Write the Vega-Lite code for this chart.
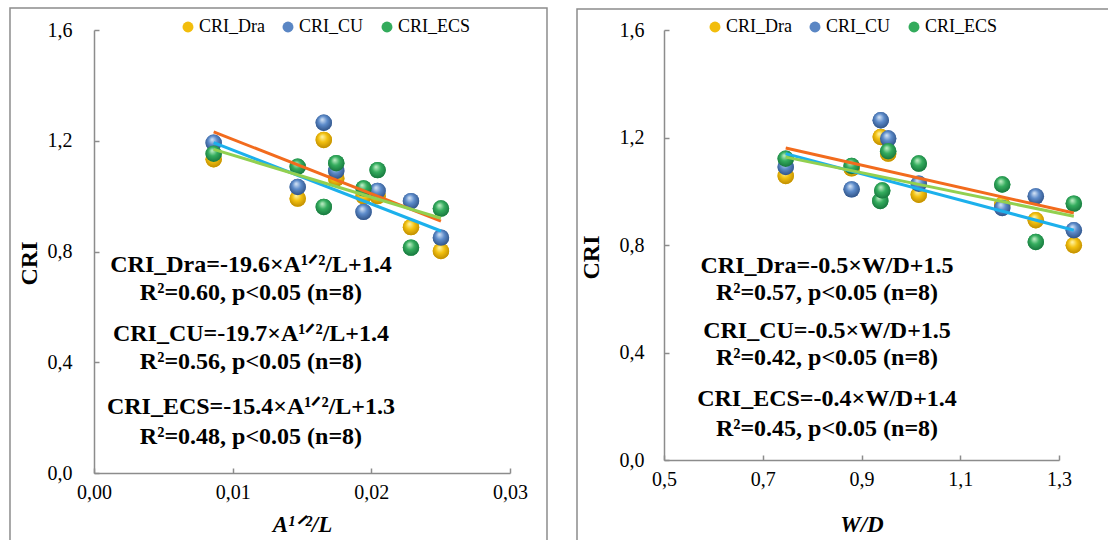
{
  "$schema": "https://vega.github.io/schema/vega-lite/v6.json",
  "background": "white",
  "padding": {"left": 9, "top": 7, "right": 0, "bottom": 0},
  "spacing": 28,
  "config": {
    "font": "Liberation Serif, Times New Roman, DejaVu Serif, serif",
    "view": {"stroke": null},
    "axis": {
      "grid": false,
      "domainColor": "#8c8c8c",
      "domainWidth": 1.5,
      "tickColor": "#8c8c8c",
      "tickWidth": 1.5,
      "tickSize": -5,
      "labelFlush": false,
      "labelFont": "Liberation Serif, Times New Roman, DejaVu Serif, serif",
      "labelFontSize": 20,
      "labelColor": "#000000",
      "titleFont": "Liberation Serif, Times New Roman, DejaVu Serif, serif",
      "titleFontWeight": "bold",
      "titleColor": "#000000"
    },
    "legend": {
      "labelFont": "Liberation Serif, Times New Roman, DejaVu Serif, serif",
      "labelFontSize": 18,
      "labelColor": "#000000"
    }
  },
  "datasets": {
    "ptsA": [
      {"series": "CRI_Dra", "x": 0.00863, "y": 1.133},
      {"series": "CRI_Dra", "x": 0.01469, "y": 0.991},
      {"series": "CRI_Dra", "x": 0.01657, "y": 1.203},
      {"series": "CRI_Dra", "x": 0.01747, "y": 1.064},
      {"series": "CRI_Dra", "x": 0.01944, "y": 1.0},
      {"series": "CRI_Dra", "x": 0.02045, "y": 1.0},
      {"series": "CRI_Dra", "x": 0.02286, "y": 0.888},
      {"series": "CRI_Dra", "x": 0.02502, "y": 0.802},
      {"series": "CRI_CU", "x": 0.00863, "y": 1.193},
      {"series": "CRI_CU", "x": 0.01469, "y": 1.033},
      {"series": "CRI_CU", "x": 0.01657, "y": 1.265},
      {"series": "CRI_CU", "x": 0.01747, "y": 1.091},
      {"series": "CRI_CU", "x": 0.01944, "y": 0.943},
      {"series": "CRI_CU", "x": 0.02045, "y": 1.019},
      {"series": "CRI_CU", "x": 0.02286, "y": 0.982},
      {"series": "CRI_CU", "x": 0.02502, "y": 0.85},
      {"series": "CRI_ECS", "x": 0.00863, "y": 1.153},
      {"series": "CRI_ECS", "x": 0.01469, "y": 1.106},
      {"series": "CRI_ECS", "x": 0.01657, "y": 0.961},
      {"series": "CRI_ECS", "x": 0.01747, "y": 1.119},
      {"series": "CRI_ECS", "x": 0.01944, "y": 1.028},
      {"series": "CRI_ECS", "x": 0.02045, "y": 1.094},
      {"series": "CRI_ECS", "x": 0.02286, "y": 0.814},
      {"series": "CRI_ECS", "x": 0.02502, "y": 0.955}
    ],
    "ptsB": [
      {"series": "CRI_Dra", "x": 0.7465, "y": 1.057},
      {"series": "CRI_Dra", "x": 0.88, "y": 1.085},
      {"series": "CRI_Dra", "x": 0.939, "y": 1.202},
      {"series": "CRI_Dra", "x": 0.954, "y": 1.14},
      {"series": "CRI_Dra", "x": 1.016, "y": 0.987},
      {"series": "CRI_Dra", "x": 1.185, "y": 0.95},
      {"series": "CRI_Dra", "x": 1.253, "y": 0.892},
      {"series": "CRI_Dra", "x": 1.33, "y": 0.799},
      {"series": "CRI_CU", "x": 0.7465, "y": 1.09},
      {"series": "CRI_CU", "x": 0.88, "y": 1.007},
      {"series": "CRI_CU", "x": 0.939, "y": 1.264},
      {"series": "CRI_CU", "x": 0.954, "y": 1.196},
      {"series": "CRI_CU", "x": 1.016, "y": 1.028},
      {"series": "CRI_CU", "x": 1.185, "y": 0.938},
      {"series": "CRI_CU", "x": 1.253, "y": 0.981},
      {"series": "CRI_CU", "x": 1.33, "y": 0.855},
      {"series": "CRI_ECS", "x": 0.7465, "y": 1.121},
      {"series": "CRI_ECS", "x": 0.88, "y": 1.094},
      {"series": "CRI_ECS", "x": 0.938, "y": 0.964},
      {"series": "CRI_ECS", "x": 0.942, "y": 1.003},
      {"series": "CRI_ECS", "x": 0.954, "y": 1.149},
      {"series": "CRI_ECS", "x": 1.016, "y": 1.103},
      {"series": "CRI_ECS", "x": 1.185, "y": 1.025},
      {"series": "CRI_ECS", "x": 1.253, "y": 0.811},
      {"series": "CRI_ECS", "x": 1.33, "y": 0.954}
    ],
    "linA": [
      {"series": "CRI_Dra", "x": 0.00863, "y": 1.232},
      {"series": "CRI_Dra", "x": 0.02502, "y": 0.91},
      {"series": "CRI_CU", "x": 0.00863, "y": 1.193},
      {"series": "CRI_CU", "x": 0.02502, "y": 0.874},
      {"series": "CRI_ECS", "x": 0.00863, "y": 1.169},
      {"series": "CRI_ECS", "x": 0.02502, "y": 0.92}
    ],
    "linB": [
      {"series": "CRI_Dra", "x": 0.7465, "y": 1.161},
      {"series": "CRI_Dra", "x": 1.33, "y": 0.919},
      {"series": "CRI_CU", "x": 0.7465, "y": 1.14},
      {"series": "CRI_CU", "x": 1.33, "y": 0.855},
      {"series": "CRI_ECS", "x": 0.7465, "y": 1.127},
      {"series": "CRI_ECS", "x": 1.33, "y": 0.907}
    ],
    "txtA": [
      {"label": "CRI_Dra=-19.6×A¹ᐟ²/L+1.4", "x": 0.01132, "y": 0.7512},
      {"label": "R²=0.60, p<0.05 (n=8)", "x": 0.01132, "y": 0.6501},
      {"label": "CRI_CU=-19.7×A¹ᐟ²/L+1.4", "x": 0.01132, "y": 0.502},
      {"label": "R²=0.56, p<0.05 (n=8)", "x": 0.01132, "y": 0.4009},
      {"label": "CRI_ECS=-15.4×A¹ᐟ²/L+1.3", "x": 0.01132, "y": 0.2384},
      {"label": "R²=0.48, p<0.05 (n=8)", "x": 0.01132, "y": 0.13}
    ],
    "txtB": [
      {"label": "CRI_Dra=-0.5×W/D+1.5", "x": 0.8301, "y": 0.7219},
      {"label": "R²=0.57, p<0.05 (n=8)", "x": 0.8301, "y": 0.6214},
      {"label": "CRI_CU=-0.5×W/D+1.5", "x": 0.8301, "y": 0.48},
      {"label": "R²=0.42, p<0.05 (n=8)", "x": 0.8301, "y": 0.3795},
      {"label": "CRI_ECS=-0.4×W/D+1.4", "x": 0.8301, "y": 0.227},
      {"label": "R²=0.45, p<0.05 (n=8)", "x": 0.8301, "y": 0.1153}
    ]
  },
  "hconcat": [
    {
      "width": 416,
      "height": 443,
      "layer": [
        {
          "data": {"values": [{}]},
          "mark": {"type": "rect", "fillOpacity": 0, "stroke": "#8c8c8c", "strokeWidth": 1.5},
          "encoding": {
            "x": {"datum": -0.006058, "type": "quantitative", "scale": {"domain": [0, 0.03], "nice": false, "zero": false},
              "axis": {"title": "A¹ᐟ²/L", "values": [0, 0.01, 0.02, 0.03], "labelExpr": "replace(format(datum.value, '.2f'), '.', ',')", "labelPadding": 14, "titleFontStyle": "italic", "titleFontSize": 23, "titleY": 51, "titleBaseline": "middle"}},
            "x2": {"datum": 0.032668},
            "y": {"datum": 1.6795, "type": "quantitative", "scale": {"domain": [0, 1.6], "nice": false, "zero": false},
              "axis": {"title": "CRI", "values": [0, 0.4, 0.8, 1.2, 1.6], "labelExpr": "replace(format(datum.value, '.1f'), '.', ',')", "labelPadding": 27, "titleFontSize": 24, "titleX": -65, "titleY": 233, "titleBaseline": "middle"}},
            "y2": {"datum": -0.2637}
          }
        },
        {
          "data": {"name": "ptsA"},
          "mark": {"type": "circle", "size": 270, "opacity": 1},
          "encoding": {
            "x": {"field": "x", "type": "quantitative", "title": "A¹ᐟ²/L"},
            "y": {"field": "y", "type": "quantitative", "title": "CRI"},
            "color": {
              "field": "series", "type": "nominal",
              "scale": {"domain": ["CRI_Dra", "CRI_CU", "CRI_ECS"], "range": ["#f2bd0c", "#5a86c4", "#33ab5c"]},
              "legend": {"title": null, "orient": "none", "legendX": 85, "legendY": -12, "direction": "horizontal", "symbolType": "circle", "symbolSize": 120, "symbolStrokeWidth": 0, "columnPadding": 14, "labelOffset": 2}
            }
          }
        },
        {
          "data": {"name": "ptsA"},
          "mark": {"type": "circle", "size": 270, "opacity": 1},
          "encoding": {
            "x": {"field": "x", "type": "quantitative", "title": "A¹ᐟ²/L"},
            "y": {"field": "y", "type": "quantitative", "title": "CRI"},
            "fill": {
              "condition": [
                {"test": "datum.series === 'CRI_Dra'", "value": {"gradient": "radial", "x1": 0.4, "y1": 0.3, "r1": 0, "x2": 0.5, "y2": 0.45, "r2": 0.6, "stops": [{"offset": 0, "color": "#fff7b0"}, {"offset": 0.45, "color": "#f3c10f"}, {"offset": 1, "color": "#b88600"}]}},
                {"test": "datum.series === 'CRI_CU'", "value": {"gradient": "radial", "x1": 0.4, "y1": 0.3, "r1": 0, "x2": 0.5, "y2": 0.45, "r2": 0.6, "stops": [{"offset": 0, "color": "#dbe8f8"}, {"offset": 0.45, "color": "#5c8bca"}, {"offset": 1, "color": "#2b4c7e"}]}}
              ],
              "value": {"gradient": "radial", "x1": 0.4, "y1": 0.3, "r1": 0, "x2": 0.5, "y2": 0.45, "r2": 0.6, "stops": [{"offset": 0, "color": "#c8f2cc"}, {"offset": 0.45, "color": "#34ad5e"}, {"offset": 1, "color": "#14703a"}]}
            }
          }
        },
        {
          "data": {"name": "linA"},
          "mark": {"type": "line", "strokeWidth": 3},
          "encoding": {
            "x": {"field": "x", "type": "quantitative", "title": "A¹ᐟ²/L"},
            "y": {"field": "y", "type": "quantitative", "title": "CRI"},
            "stroke": {"field": "series", "type": "nominal", "scale": {"domain": ["CRI_Dra", "CRI_CU", "CRI_ECS"], "range": ["#f26b1d", "#1cb0ec", "#92d050"]}, "legend": null}
          }
        },
        {
          "data": {"name": "txtA"},
          "mark": {"type": "text", "font": "Liberation Serif, Times New Roman, DejaVu Serif, serif", "fontSize": 24, "fontWeight": "bold", "align": "center", "baseline": "middle", "color": "#000000"},
          "encoding": {
            "x": {"field": "x", "type": "quantitative", "title": "A¹ᐟ²/L"},
            "y": {"field": "y", "type": "quantitative", "title": "CRI"},
            "text": {"field": "label"}
          }
        }
      ]
    },
    {
      "width": 395,
      "height": 430,
      "layer": [
        {
          "data": {"values": [{}]},
          "mark": {"type": "rect", "fillOpacity": 0, "stroke": "#8c8c8c", "strokeWidth": 1.5},
          "encoding": {
            "x": {"datum": 0.3238, "type": "quantitative", "scale": {"domain": [0.5, 1.3], "nice": false, "zero": false},
              "axis": {"title": "W/D", "values": [0.5, 0.7, 0.9, 1.1, 1.3], "labelExpr": "replace(format(datum.value, '.1f'), '.', ',')", "labelPadding": 14, "titleFontStyle": "italic", "titleFontSize": 23, "titleY": 64, "titleBaseline": "middle"}},
            "x2": {"datum": 1.4114},
            "y": {"datum": 1.6781, "type": "quantitative", "scale": {"domain": [0, 1.6], "nice": false, "zero": false},
              "axis": {"title": "CRI", "values": [0, 0.4, 0.8, 1.2, 1.6], "labelExpr": "replace(format(datum.value, '.1f'), '.', ',')", "labelPadding": 25, "titleFontSize": 24, "titleX": -73, "titleY": 227, "titleBaseline": "middle"}},
            "y2": {"datum": -0.3237}
          }
        },
        {
          "data": {"name": "ptsB"},
          "mark": {"type": "circle", "size": 270, "opacity": 1},
          "encoding": {
            "x": {"field": "x", "type": "quantitative", "title": "W/D"},
            "y": {"field": "y", "type": "quantitative", "title": "CRI"},
            "color": {
              "field": "series", "type": "nominal",
              "legend": {"title": null, "orient": "none", "legendX": 42, "legendY": -12, "direction": "horizontal", "symbolType": "circle", "symbolSize": 120, "symbolStrokeWidth": 0, "columnPadding": 14, "labelOffset": 2}
            }
          }
        },
        {
          "data": {"name": "ptsB"},
          "mark": {"type": "circle", "size": 270, "opacity": 1},
          "encoding": {
            "x": {"field": "x", "type": "quantitative", "title": "W/D"},
            "y": {"field": "y", "type": "quantitative", "title": "CRI"},
            "fill": {
              "condition": [
                {"test": "datum.series === 'CRI_Dra'", "value": {"gradient": "radial", "x1": 0.4, "y1": 0.3, "r1": 0, "x2": 0.5, "y2": 0.45, "r2": 0.6, "stops": [{"offset": 0, "color": "#fff7b0"}, {"offset": 0.45, "color": "#f3c10f"}, {"offset": 1, "color": "#b88600"}]}},
                {"test": "datum.series === 'CRI_CU'", "value": {"gradient": "radial", "x1": 0.4, "y1": 0.3, "r1": 0, "x2": 0.5, "y2": 0.45, "r2": 0.6, "stops": [{"offset": 0, "color": "#dbe8f8"}, {"offset": 0.45, "color": "#5c8bca"}, {"offset": 1, "color": "#2b4c7e"}]}}
              ],
              "value": {"gradient": "radial", "x1": 0.4, "y1": 0.3, "r1": 0, "x2": 0.5, "y2": 0.45, "r2": 0.6, "stops": [{"offset": 0, "color": "#c8f2cc"}, {"offset": 0.45, "color": "#34ad5e"}, {"offset": 1, "color": "#14703a"}]}
            }
          }
        },
        {
          "data": {"name": "linB"},
          "mark": {"type": "line", "strokeWidth": 3},
          "encoding": {
            "x": {"field": "x", "type": "quantitative", "title": "W/D"},
            "y": {"field": "y", "type": "quantitative", "title": "CRI"},
            "stroke": {"field": "series", "type": "nominal", "legend": null}
          }
        },
        {
          "data": {"name": "txtB"},
          "mark": {"type": "text", "font": "Liberation Serif, Times New Roman, DejaVu Serif, serif", "fontSize": 24, "fontWeight": "bold", "align": "center", "baseline": "middle", "color": "#000000"},
          "encoding": {
            "x": {"field": "x", "type": "quantitative", "title": "W/D"},
            "y": {"field": "y", "type": "quantitative", "title": "CRI"},
            "text": {"field": "label"}
          }
        }
      ]
    }
  ],
  "resolve": {"legend": {"color": "independent"}}
}
